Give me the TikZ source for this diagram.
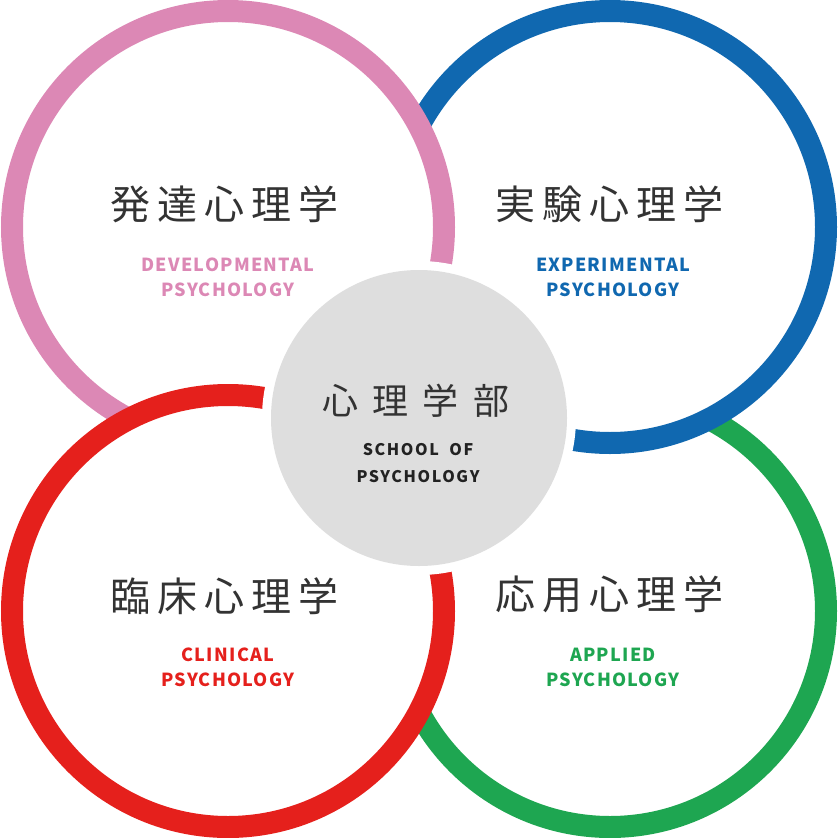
\documentclass[tikz,border=0pt]{standalone}
\usepackage{fontspec}
\newfontfamily\jptitle[LetterSpace=17.5]{Noto Sans CJK JP}
\newfontfamily\jpcenter[LetterSpace=39]{Noto Sans CJK JP}
\newfontfamily\encol[LetterSpace=7]{Noto Sans CJK JP}
\newfontfamily\encenter[LetterSpace=10]{Noto Sans CJK JP}
\definecolor{cpink}{HTML}{DC88B5}
\definecolor{cblue}{HTML}{1068B0}
\definecolor{cred}{HTML}{E5201C}
\definecolor{cgreen}{HTML}{1EA651}
\definecolor{cgray}{HTML}{DEDEDE}
\definecolor{ctext}{HTML}{333333}
\definecolor{cdark}{HTML}{222222}
\tikzset{
  ringline/.style={line width=22pt, fill=white},
  titletext/.style={font=\jptitle\fontsize{40}{48}\selectfont, text=ctext, inner sep=0pt},
  entext/.style={font=\encol\bfseries\fontsize{18}{25}\selectfont, align=center, inner sep=0pt},
  centertitle/.style={font=\jpcenter\fontsize{36}{44}\selectfont, text=ctext, inner sep=0pt},
  centeren/.style={font=\encenter\bfseries\fontsize{16}{27}\selectfont, text=cdark, align=center, inner sep=0pt}
}
\begin{document}
\begin{tikzpicture}[x=1pt,y=-1pt]
\useasboundingbox (0,0) rectangle (838,838);
\coordinate (cP) at (228,227);
\coordinate (cB) at (610,227);
\coordinate (cR) at (228,611);
\coordinate (cG) at (610,611);
\coordinate (cC) at (419,418);
% rings, white-filled so each hides the part of the ring beneath it
\draw[ringline, draw=cgreen] (cG) circle[radius=216pt];
\draw[ringline, draw=cblue] (cB) circle[radius=216pt];
\draw[ringline, draw=cpink] (cP) circle[radius=216pt];
\draw[ringline, draw=cred] (cR) circle[radius=216pt];
% centre disc with white gap
\fill[white] (cC) circle[radius=157pt];
\fill[cgray] (cC) circle[radius=148pt];
% titles
\node[titletext] (tP) at (224.5,204) {発達心理学};
\node[titletext] (tB) at (609.5,204) {実験心理学};
\node[titletext] (tR) at (224.5,596) {臨床心理学};
\node[titletext] (tG) at (609.5,594) {応用心理学};
\node[entext, text=cpink] (eP) at (228,277) {DEVELOPMENTAL\\PSYCHOLOGY};
\node[entext, text=cblue] (eB) at (613,277) {EXPERIMENTAL\\PSYCHOLOGY};
\node[entext, text=cred] (eR) at (228,667) {CLINICAL\\PSYCHOLOGY};
\node[entext, text=cgreen] (eG) at (613,667) {APPLIED\\PSYCHOLOGY};
% centre
\node[centertitle] (tC) at (416,401) {心理学部};
\node[centeren] (eC) at (418,463) {SCHOOL~~OF\\PSYCHOLOGY};
\end{tikzpicture}
\end{document}
